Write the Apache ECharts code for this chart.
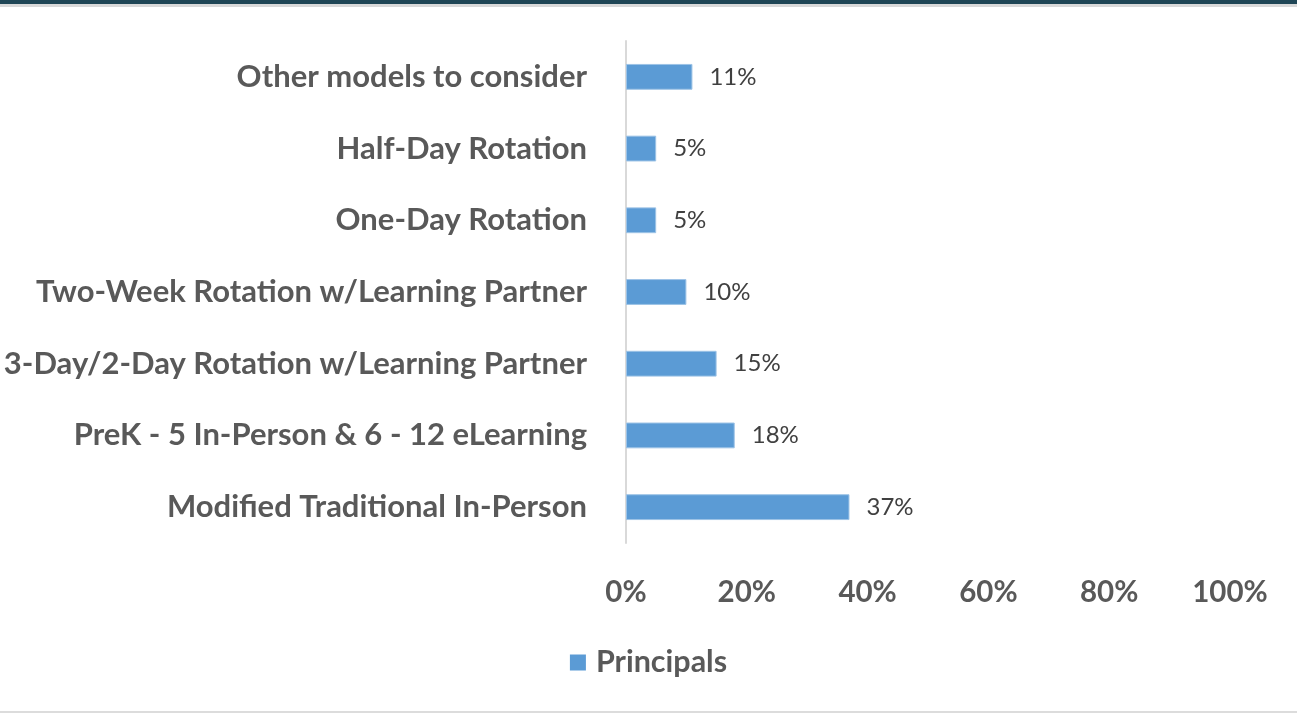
<!DOCTYPE html>
<html><head><meta charset="utf-8">
<script src="https://cdn.jsdelivr.net/npm/echarts@6/dist/echarts.min.js"></script>
<style>html,body{margin:0;padding:0;background:#fff}#c{width:1297px;height:715px}</style>
</head><body><div id="c"></div>
<script>
const categories = ["Modified Traditional In-Person","PreK - 5 In-Person & 6 - 12 eLearning","3-Day/2-Day Rotation w/Learning Partner","Two-Week Rotation w/Learning Partner","One-Day Rotation","Half-Day Rotation","Other models to consider"];
const principals = [37, 18, 15, 10, 5, 5, 11];
const seriesName = "Principals";
const FONT = "Lato";
const chart = echarts.init(document.getElementById('c'));
chart.setOption({
  animation:false,
  backgroundColor:'#fff',
  graphic:[
    {type:'rect',shape:{x:0,y:0,width:1297,height:4},style:{fill:'#1f4656'}},
    {type:'rect',shape:{x:0,y:4,width:1297,height:3},style:{fill:'#d9d9d9'}},
    {type:'rect',shape:{x:0,y:711,width:1297,height:2},style:{fill:'#dcdcdc'}}
  ],
  grid:{left:626,right:67,top:41,bottom:172,containLabel:false},
  xAxis:{type:'value',min:0,max:100,interval:20,
    axisLine:{show:false},axisTick:{show:false},splitLine:{show:false},
    axisLabel:{formatter:'{value}%',color:'#595959',fontFamily:FONT,fontWeight:'bold',fontSize:29.5,margin:34}},
  yAxis:{type:'category',data:categories,
    axisLine:{show:true,lineStyle:{color:'#d9d9d9',width:2}},axisTick:{show:false},
    axisLabel:{color:'#595959',fontFamily:FONT,fontWeight:'bold',fontSize:31,margin:39}},
  legend:{bottom:32,left:'center',itemWidth:16,itemHeight:16,icon:'rect',itemGap:10,
    itemStyle:{borderWidth:0},
    textStyle:{color:'#595959',fontFamily:FONT,fontWeight:'bold',fontSize:30.5,padding:[0,0,0,5]}},
  series:[{name:seriesName,type:'bar',data:principals,barCategoryGap:'64%',
    itemStyle:{color:'#5b9bd5',borderColor:'#9dc3e6',borderWidth:1},
    label:{show:true,position:'right',distance:17,formatter:'{c}%',color:'#404040',fontFamily:FONT,fontSize:24}}]
});
</script></body></html>
